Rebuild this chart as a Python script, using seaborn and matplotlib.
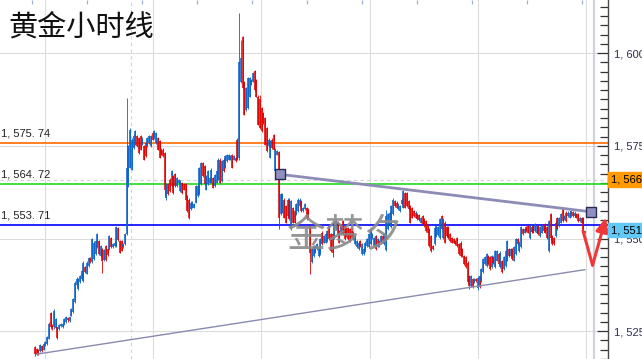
import numpy as np
import matplotlib
matplotlib.use("Agg")
import matplotlib.pyplot as plt
import matplotlib.transforms as mtransforms
from matplotlib.patches import Rectangle
import seaborn as sns

# hourly gold candles (oldest first)
opens = [
    1520.7, 1520.2, 1519.8, 1519.6, 1520.9, 1520.0, 1521.2, 1521.6, 1523.0, 1529.8,
    1526.4, 1526.0, 1525.8, 1526.0, 1525.6, 1526.3, 1526.1, 1526.9, 1527.4, 1528.6,
    1527.8, 1529.2, 1530.2, 1532.8, 1537.5, 1536.5, 1538.2, 1539.0, 1538.5, 1542.2,
    1540.5, 1542.6, 1544.6, 1543.6, 1544.5, 1545.8, 1547.6, 1549.3, 1545.3, 1547.1,
    1544.2, 1547.9, 1547.1, 1547.1, 1550.2, 1547.6, 1548.0, 1548.0, 1552.8, 1549.3,
    1549.3, 1547.6, 1548.4, 1551.1, 1564.1, 1569.1, 1568.6, 1574.4, 1575.3, 1577.6,
    1577.1, 1577.6, 1575.3, 1574.9, 1575.8, 1574.9, 1575.8, 1574.9, 1578.5, 1577.1,
    1575.8, 1577.1, 1576.2, 1574.0, 1574.0, 1573.1, 1560.8, 1564.6, 1565.9, 1564.1,
    1566.8, 1567.3, 1564.1, 1564.9, 1562.8, 1565.0, 1564.6, 1564.6, 1561.4, 1560.5,
    1557.9, 1558.3, 1558.3, 1559.7, 1561.4, 1561.9, 1564.6, 1570.4, 1569.5, 1563.2,
    1564.6, 1565.1, 1565.1, 1566.4, 1564.1, 1565.1, 1565.9, 1571.3, 1565.5, 1571.3,
    1569.1, 1570.8, 1571.3, 1571.3, 1572.6, 1571.3, 1571.8, 1576.7, 1571.8, 1592.3,
    1604.4, 1592.3, 1584.7, 1585.2, 1588.3, 1591.5, 1592.3, 1595.1, 1592.8, 1588.3,
    1587.5, 1585.2, 1583.9, 1582.5, 1579.8, 1574.9, 1571.8, 1576.7, 1578.0, 1568.2,
    1572.6, 1573.4, 1556.5, 1557.0, 1560.5, 1558.8, 1556.0, 1560.5, 1552.5, 1558.3,
    1557.4, 1556.5, 1557.4, 1558.7, 1560.1, 1557.4, 1557.9, 1558.3, 1557.8, 1553.4,
    1543.6, 1545.3, 1546.2, 1547.1, 1545.3, 1545.8, 1551.6, 1548.9, 1548.9, 1549.3,
    1553.4, 1551.1, 1551.1, 1550.2, 1552.5, 1554.3, 1552.0, 1551.1, 1554.7, 1553.4,
    1552.9, 1552.9, 1552.5, 1552.9, 1551.6, 1548.4, 1547.6, 1547.1, 1549.3, 1545.8,
    1545.8, 1546.6, 1548.0, 1547.6, 1548.4, 1550.2, 1548.0, 1550.7, 1548.0, 1549.3,
    1548.9, 1550.7, 1548.4, 1547.0, 1552.5, 1553.8, 1553.0, 1556.5, 1560.1, 1559.7,
    1557.9, 1557.4, 1560.5, 1558.3, 1562.3, 1562.3, 1560.1, 1558.8, 1558.3, 1557.4,
    1555.6, 1556.5, 1556.3, 1554.3, 1556.0, 1555.2, 1554.7, 1553.4, 1552.5, 1550.7,
    1547.9, 1548.4, 1550.7, 1550.9, 1550.2, 1556.0, 1550.2, 1554.3, 1553.0, 1553.0,
    1551.1, 1550.2, 1549.8, 1549.3, 1550.2, 1548.4, 1548.9, 1547.1, 1545.3, 1544.9,
    1543.5, 1539.9, 1537.2, 1539.0, 1538.2, 1539.0, 1536.6, 1539.9, 1538.6, 1540.9,
    1543.1, 1542.6, 1545.3, 1544.9, 1542.2, 1545.1, 1542.2, 1544.0, 1545.8, 1542.2,
    1543.9, 1541.7, 1542.6, 1544.0, 1547.1, 1545.3, 1547.1, 1544.0, 1545.8, 1549.8,
    1546.6, 1547.6, 1552.5, 1551.6, 1553.0, 1553.4, 1550.2, 1553.2, 1553.4, 1552.0,
    1551.6, 1553.4, 1550.7, 1551.6, 1553.4, 1553.8, 1553.0, 1546.6, 1556.5, 1550.7,
    1550.2, 1550.7, 1555.6, 1553.4, 1554.3, 1557.9, 1555.2, 1557.0, 1556.0, 1555.6,
    1556.0, 1557.2, 1556.0, 1556.5, 1556.5, 1554.7, 1555.6, 1555.6, 1551.7,
]
highs = [
    1521.0, 1520.5, 1520.1, 1521.5, 1521.2, 1521.8, 1522.3, 1523.8, 1527.5, 1530.2,
    1527.0, 1531.0, 1528.5, 1526.2, 1527.0, 1527.3, 1527.3, 1528.6, 1529.0, 1528.9,
    1529.0, 1531.3, 1534.0, 1538.5, 1539.5, 1539.3, 1540.2, 1541.6, 1543.8, 1542.5,
    1543.8, 1545.1, 1545.0, 1550.1, 1549.2, 1549.6, 1551.4, 1549.6, 1548.3, 1547.4,
    1547.2, 1548.2, 1547.4, 1550.9, 1550.5, 1548.8, 1549.2, 1553.3, 1553.1, 1549.6,
    1549.6, 1548.8, 1551.4, 1588.0, 1575.2, 1579.7, 1577.0, 1578.0, 1579.2, 1577.9,
    1577.4, 1577.9, 1577.4, 1575.2, 1576.1, 1577.4, 1577.9, 1577.9, 1578.8, 1579.2,
    1578.8, 1577.4, 1576.5, 1574.3, 1574.3, 1573.4, 1564.9, 1564.9, 1566.2, 1568.5,
    1567.1, 1567.6, 1566.7, 1566.0, 1565.8, 1565.3, 1564.9, 1564.9, 1561.7, 1560.8,
    1560.0, 1560.0, 1559.5, 1564.4, 1564.4, 1569.3, 1570.7, 1570.7, 1569.8, 1567.1,
    1568.5, 1566.7, 1568.9, 1566.7, 1567.5, 1568.5, 1571.6, 1571.6, 1571.1, 1571.6,
    1572.5, 1572.9, 1572.9, 1572.5, 1572.9, 1572.5, 1572.1, 1577.0, 1610.8, 1603.6,
    1604.7, 1592.6, 1590.9, 1593.6, 1593.6, 1593.1, 1594.9, 1595.4, 1593.1, 1588.6,
    1588.6, 1585.5, 1584.2, 1582.8, 1580.1, 1577.0, 1576.5, 1577.0, 1578.3, 1574.3,
    1573.8, 1573.7, 1562.2, 1562.2, 1560.8, 1559.1, 1560.8, 1560.8, 1560.4, 1558.6,
    1557.7, 1559.5, 1560.8, 1560.8, 1560.4, 1558.6, 1559.5, 1558.6, 1558.1, 1553.7,
    1547.4, 1548.3, 1548.3, 1548.7, 1547.9, 1550.1, 1551.9, 1551.0, 1551.4, 1552.3,
    1553.7, 1551.4, 1551.4, 1554.6, 1555.0, 1554.6, 1552.3, 1553.7, 1555.0, 1553.7,
    1553.2, 1553.2, 1552.8, 1553.2, 1551.9, 1551.0, 1549.6, 1549.2, 1549.6, 1548.7,
    1547.4, 1549.2, 1550.1, 1551.4, 1552.8, 1551.4, 1550.5, 1551.0, 1550.1, 1549.6,
    1551.0, 1551.0, 1551.4, 1557.6, 1556.8, 1557.3, 1559.1, 1560.8, 1560.4, 1560.0,
    1559.5, 1559.1, 1560.8, 1563.0, 1562.6, 1562.6, 1560.4, 1559.1, 1558.6, 1557.7,
    1557.3, 1556.8, 1556.6, 1555.9, 1556.3, 1555.5, 1555.0, 1553.7, 1552.8, 1551.0,
    1548.2, 1553.2, 1553.7, 1553.5, 1555.5, 1556.3, 1555.5, 1554.6, 1553.3, 1553.3,
    1551.4, 1550.5, 1550.1, 1549.6, 1550.5, 1548.7, 1549.2, 1547.4, 1545.6, 1545.2,
    1543.8, 1540.2, 1540.2, 1539.3, 1539.3, 1539.3, 1539.9, 1540.2, 1542.0, 1544.7,
    1545.2, 1546.1, 1545.6, 1545.2, 1545.6, 1545.4, 1546.9, 1546.9, 1546.1, 1546.5,
    1544.2, 1545.2, 1546.9, 1549.6, 1547.4, 1547.4, 1547.4, 1547.9, 1550.1, 1550.1,
    1549.2, 1553.3, 1552.8, 1552.8, 1553.3, 1553.7, 1553.7, 1553.5, 1553.7, 1554.1,
    1553.7, 1553.7, 1553.3, 1553.7, 1553.7, 1554.1, 1553.3, 1555.0, 1556.8, 1551.0,
    1550.5, 1554.6, 1555.9, 1555.9, 1556.8, 1558.2, 1556.3, 1557.3, 1557.3, 1557.3,
    1557.7, 1557.5, 1557.3, 1556.8, 1556.8, 1555.9, 1555.9, 1555.9, 1552.1,
]
lows = [
    1518.4, 1518.6, 1518.6, 1519.3, 1519.3, 1519.8, 1521.0, 1521.3, 1522.8, 1525.6,
    1525.4, 1525.6, 1525.6, 1522.9, 1525.4, 1526.0, 1525.9, 1526.7, 1527.2, 1527.6,
    1527.6, 1529.0, 1530.0, 1532.5, 1537.0, 1536.2, 1538.0, 1538.8, 1538.2, 1540.7,
    1540.3, 1542.4, 1543.5, 1543.4, 1544.2, 1545.5, 1547.4, 1545.5, 1545.0, 1540.8,
    1544.0, 1544.0, 1545.4, 1546.9, 1547.4, 1547.4, 1547.8, 1547.8, 1549.3, 1546.0,
    1546.5, 1547.4, 1548.2, 1550.9, 1563.9, 1568.9, 1568.4, 1574.2, 1575.1, 1574.7,
    1572.9, 1573.8, 1575.1, 1571.1, 1572.0, 1574.7, 1575.6, 1574.7, 1576.5, 1576.9,
    1575.6, 1573.8, 1571.6, 1572.4, 1572.0, 1561.4, 1560.5, 1561.7, 1562.6, 1563.9,
    1562.1, 1563.9, 1563.9, 1564.7, 1562.6, 1562.1, 1563.0, 1560.3, 1557.2, 1555.2,
    1557.7, 1558.1, 1558.1, 1559.5, 1561.2, 1561.7, 1564.4, 1566.6, 1564.4, 1563.0,
    1564.4, 1564.9, 1564.9, 1563.5, 1563.9, 1564.9, 1565.7, 1564.9, 1565.3, 1568.0,
    1568.9, 1570.6, 1571.1, 1571.1, 1568.9, 1571.1, 1570.7, 1571.1, 1571.3, 1592.0,
    1590.4, 1583.2, 1584.5, 1585.0, 1588.1, 1591.3, 1592.1, 1589.9, 1588.1, 1580.5,
    1579.6, 1578.7, 1581.0, 1575.1, 1573.3, 1574.7, 1571.6, 1574.2, 1573.8, 1568.0,
    1572.4, 1552.5, 1556.3, 1556.8, 1555.4, 1554.1, 1555.8, 1555.0, 1552.3, 1554.1,
    1554.1, 1556.3, 1557.2, 1558.5, 1557.2, 1557.2, 1557.7, 1555.0, 1555.4, 1540.4,
    1543.4, 1545.1, 1546.0, 1546.9, 1545.1, 1545.6, 1548.2, 1548.7, 1548.7, 1549.1,
    1549.6, 1546.4, 1544.9, 1550.0, 1552.3, 1550.9, 1548.7, 1550.9, 1550.9, 1549.6,
    1550.5, 1549.6, 1549.1, 1550.0, 1549.6, 1548.2, 1547.4, 1546.9, 1547.8, 1545.6,
    1545.6, 1546.4, 1547.8, 1547.4, 1548.2, 1550.0, 1547.8, 1546.9, 1547.8, 1547.8,
    1548.7, 1548.7, 1548.2, 1546.6, 1552.3, 1553.6, 1552.8, 1556.3, 1558.5, 1558.1,
    1557.7, 1557.2, 1559.0, 1558.1, 1558.1, 1558.5, 1557.7, 1554.1, 1555.4, 1555.8,
    1555.4, 1555.0, 1554.8, 1554.1, 1553.6, 1553.2, 1551.8, 1551.4, 1547.8, 1546.4,
    1546.9, 1548.2, 1550.5, 1550.7, 1550.0, 1552.3, 1550.0, 1548.7, 1550.5, 1550.0,
    1549.1, 1548.7, 1548.7, 1548.2, 1547.8, 1545.6, 1545.1, 1545.1, 1542.9, 1542.0,
    1538.0, 1536.4, 1537.0, 1536.6, 1538.0, 1538.3, 1536.2, 1536.6, 1538.4, 1540.7,
    1542.9, 1542.4, 1542.9, 1541.5, 1542.0, 1543.0, 1542.0, 1543.8, 1542.9, 1542.0,
    1540.7, 1541.5, 1542.4, 1543.8, 1545.1, 1545.1, 1544.2, 1543.8, 1545.6, 1548.2,
    1546.4, 1547.4, 1550.9, 1551.4, 1551.8, 1551.4, 1550.0, 1551.5, 1551.4, 1551.8,
    1551.4, 1550.9, 1550.5, 1551.4, 1551.8, 1551.4, 1550.0, 1546.4, 1549.3, 1548.2,
    1548.2, 1550.5, 1552.3, 1553.2, 1554.1, 1554.5, 1555.0, 1554.5, 1555.8, 1555.4,
    1555.8, 1555.8, 1555.8, 1555.4, 1554.5, 1554.5, 1554.1, 1551.4, 1551.6,
]
closes = [
    1518.8, 1518.9, 1518.8, 1521.2, 1519.6, 1521.5, 1522.0, 1523.4, 1527.0, 1526.0,
    1525.8, 1530.5, 1528.2, 1523.2, 1526.6, 1527.0, 1527.0, 1528.3, 1528.7, 1527.9,
    1528.7, 1531.0, 1533.7, 1538.0, 1539.2, 1539.0, 1539.9, 1541.3, 1543.5, 1540.9,
    1543.5, 1544.8, 1543.8, 1549.8, 1548.9, 1549.3, 1551.1, 1545.8, 1548.0, 1544.0,
    1546.8, 1544.2, 1545.6, 1550.6, 1547.6, 1548.5, 1548.9, 1553.0, 1549.6, 1546.2,
    1546.7, 1548.5, 1551.1, 1569.0, 1574.9, 1579.4, 1576.7, 1577.6, 1578.9, 1574.9,
    1573.1, 1574.0, 1577.1, 1571.3, 1572.2, 1577.1, 1577.6, 1577.6, 1576.7, 1578.9,
    1578.5, 1574.0, 1571.8, 1572.6, 1572.2, 1563.0, 1564.6, 1561.9, 1562.8, 1568.2,
    1562.3, 1564.1, 1566.4, 1565.7, 1565.5, 1562.3, 1563.2, 1560.5, 1557.4, 1555.5,
    1559.7, 1559.7, 1559.2, 1564.1, 1564.1, 1569.0, 1570.4, 1566.8, 1564.6, 1566.8,
    1568.2, 1566.4, 1568.6, 1563.7, 1567.2, 1568.2, 1571.3, 1565.1, 1570.8, 1568.2,
    1572.2, 1572.6, 1572.6, 1572.2, 1569.1, 1572.2, 1570.9, 1571.3, 1597.7, 1598.7,
    1590.6, 1583.4, 1590.6, 1593.3, 1593.3, 1592.8, 1594.6, 1590.1, 1588.3, 1580.7,
    1579.8, 1578.9, 1581.2, 1575.3, 1573.5, 1576.7, 1576.2, 1574.4, 1574.0, 1574.0,
    1573.5, 1555.5, 1561.9, 1561.9, 1555.6, 1554.3, 1560.5, 1555.2, 1560.1, 1554.3,
    1554.3, 1559.2, 1560.5, 1560.5, 1557.4, 1558.3, 1559.2, 1555.2, 1555.6, 1546.0,
    1547.1, 1548.0, 1548.0, 1548.4, 1547.6, 1549.8, 1548.4, 1550.7, 1551.1, 1552.0,
    1549.8, 1546.6, 1546.0, 1554.3, 1554.7, 1551.1, 1548.9, 1553.4, 1551.1, 1549.8,
    1550.7, 1549.8, 1549.3, 1550.2, 1549.8, 1550.7, 1549.3, 1548.9, 1548.0, 1548.4,
    1547.1, 1548.9, 1549.8, 1551.1, 1552.5, 1551.1, 1550.2, 1547.1, 1549.8, 1548.0,
    1550.7, 1548.9, 1551.1, 1556.0, 1556.5, 1557.0, 1558.8, 1560.5, 1558.7, 1558.3,
    1559.2, 1558.8, 1559.2, 1562.7, 1558.3, 1558.7, 1557.9, 1554.3, 1555.6, 1556.0,
    1557.0, 1555.2, 1555.0, 1555.6, 1553.8, 1553.4, 1552.0, 1551.6, 1548.0, 1546.6,
    1547.1, 1552.9, 1553.4, 1553.2, 1555.2, 1552.5, 1555.2, 1548.9, 1550.7, 1550.2,
    1549.3, 1548.9, 1548.9, 1548.4, 1548.0, 1545.8, 1545.3, 1545.3, 1543.1, 1542.2,
    1538.2, 1537.2, 1539.9, 1536.8, 1539.0, 1538.5, 1539.4, 1536.8, 1541.7, 1544.4,
    1544.9, 1545.8, 1543.1, 1541.7, 1545.3, 1543.3, 1546.6, 1546.6, 1543.1, 1546.2,
    1540.9, 1544.9, 1546.6, 1549.3, 1545.3, 1547.1, 1544.4, 1547.6, 1549.8, 1548.4,
    1548.9, 1553.0, 1551.1, 1552.5, 1552.0, 1551.6, 1553.4, 1551.8, 1551.6, 1553.8,
    1553.4, 1551.1, 1553.0, 1553.4, 1552.0, 1551.6, 1550.2, 1554.7, 1550.2, 1548.4,
    1548.4, 1554.3, 1552.5, 1555.6, 1556.5, 1554.7, 1556.0, 1554.7, 1557.0, 1557.0,
    1557.4, 1556.0, 1557.0, 1555.6, 1554.7, 1555.6, 1554.3, 1551.6, 1552.0,
]

# horizontal levels drawn on the chart
levels = [1575.74, 1564.72, 1553.71]
level_labels = ["1, 575. 74", "1, 564. 72", "1, 553. 71"]
level_colors = ["#ff6a00", "#1edc1e", "#0000ff"]

ask_price = 1565.9
ask_label = "1, 566."
bid_price = 1552.2
bid_label = "1, 551."

price_ticks = [1525, 1550, 1575, 1600]
price_tick_labels = ["1, 525.00", "1, 550.00", "1, 575.00", "1, 600.00"]

# trend lines (bar index, price)
upper_x = [141.8, 321.4]
upper_y = [1567.3, 1557.2]
lower_x = [0.9, 317.9]
lower_y = [1518.8, 1541.6]

# hand drawn red arrow
arrow_x = [316.8, 322.3, 330.1]
arrow_y = [1552.0, 1542.8, 1555.7]

title = "黄金小时线"
watermark = "金梦夕"

sns.set_theme(style="white")
plt.rcParams["font.family"] = ["Liberation Sans", "DejaVu Sans"]

W, H = 642, 359
step = 1.73          # pixels per bar
x0 = 35              # pixel of first bar
axis_px = 608        # price axis line
fig = plt.figure(figsize=(W / 100, H / 100), dpi=100)
fig.patch.set_facecolor("white")
ax = fig.add_axes([0, 0, axis_px / W, 1])
ax.set_facecolor("white")

xmin, xmax = -x0 / step, (axis_px - x0) / step
ax.set_xlim(xmin, xmax)
ax.set_ylim(1517.83, 1614.33)

def px(p):
    return (p - x0) / step

# grid
for gx in [45, 153, 261, 370, 478, 586]:
    ax.axvline(px(gx), color="#dcdcdc", lw=0.8, zorder=0.5)
ax.axvline(px(131), color="#d4d4d4", lw=0.8, ls=(0, (3, 3)), zorder=0.5)
for gy in price_ticks:
    ax.axhline(gy, color="#dcdcdc", lw=0.8, zorder=0.5)
ax.axvline(px(594), color="#d0d2da", lw=1.6, zorder=0.6)
ax.axhline(ask_price, color="#d0d0d0", lw=0.8, ls=(0, (3, 3)), zorder=0.6)

# level lines and their labels
trans_lab = mtransforms.blended_transform_factory(fig.transFigure, ax.transData)
for lv, lab, col in zip(levels, level_labels, level_colors):
    ax.axhline(lv, color=col, lw=1.2, zorder=1)
    fig.text(1 / W, lv + 1.2, lab, transform=trans_lab, fontsize=8,
             color="#222222", va="bottom", ha="left")

# candles
o = np.array(opens); c = np.array(closes)
h = np.array(highs); l = np.array(lows)
n = len(c)
xs = np.arange(n)
up = c >= o
cols = np.where(up, "#0a62c8", "#e00000")
ax.vlines(xs, l, h, colors=cols, lw=0.6, zorder=2)
ax.vlines(xs, np.minimum(o, c), np.maximum(o, c), colors=cols, lw=1.15, zorder=2.1)

# trend lines
sns.lineplot(x=upper_x, y=upper_y, ax=ax, color="#8c8cb6", lw=2.0, sort=False,
             legend=False, zorder=3)
sns.lineplot(x=lower_x, y=lower_y, ax=ax, color="#8a8ab2", lw=1.0, sort=False,
             legend=False, zorder=3)
sns.scatterplot(x=upper_x, y=upper_y, ax=ax, marker="s", s=48, color="#9090c0",
                edgecolor="#2a2a58", linewidth=1.0, zorder=4, legend=False)

# red arrow
ax.plot(arrow_x[:2], arrow_y[:2], color="#f03636", lw=2.2, zorder=6,
        solid_capstyle="round", clip_on=False)
ax.annotate("", xy=(arrow_x[2], arrow_y[2]), xytext=(arrow_x[1], arrow_y[1]),
            arrowprops=dict(arrowstyle="-|>,head_length=0.7,head_width=0.3",
                            color="#f03636", lw=2.2, shrinkA=0, shrinkB=0),
            zorder=6, annotation_clip=False)

# price axis on the right
for side in ["left", "top", "bottom"]:
    ax.spines[side].set_visible(False)
ax.spines["right"].set_color("#4a4a4a")
ax.spines["right"].set_linewidth(1.0)
ax.yaxis.tick_right()
ax.set_yticks(price_ticks)
ax.set_yticklabels(price_tick_labels)
ax.set_yticks(np.arange(1517.5, 1615, 2.5), minor=True)
ax.tick_params(axis="y", which="major", direction="in", length=8, width=0.9,
               color="#333333", pad=4, labelsize=8, labelcolor="#2e2e55")
ax.tick_params(axis="y", which="minor", direction="in", length=6, width=0.9,
               color="#333333")
ax.set_xticks(px(np.arange(32, axis_px, 55)))
ax.tick_params(axis="x", which="major", top=True, bottom=False, labelbottom=False,
               direction="in", length=3, width=0.9, color="#9fb0d4")

# price tags on the axis
tag_w = (W - axis_px) / W
ax.figure.patches.append(Rectangle((axis_px / W, ask_price - 2.0), tag_w, 4.0,
                                   transform=trans_lab, color="#ff9a00", zorder=5))
fig.text((axis_px + 3) / W, ask_price, ask_label, transform=trans_lab,
         fontsize=8, color="black", va="center", zorder=6)
ax.figure.patches.append(Rectangle((axis_px / W, bid_price - 1.9), tag_w, 3.8,
                                   transform=trans_lab, color="#62c8f6", zorder=5))
fig.text((axis_px + 3) / W, bid_price, bid_label, transform=trans_lab,
         fontsize=8, color="black", va="center", zorder=6)

# title and watermark
fig.text(8 / W, 1 - 28 / H, title, fontsize=21, color="#111111", fontweight="light",
         family=["Noto Sans CJK SC", "DejaVu Sans"], va="center", ha="left")
fig.text(345 / W, 1 - 236 / H, watermark, fontsize=28, color="#8a8a8a", alpha=0.9,
         fontweight="light", family=["Noto Sans CJK SC", "DejaVu Sans"],
         va="center", ha="center", zorder=5)

fig.savefig("out.png", dpi=100, facecolor="white")
